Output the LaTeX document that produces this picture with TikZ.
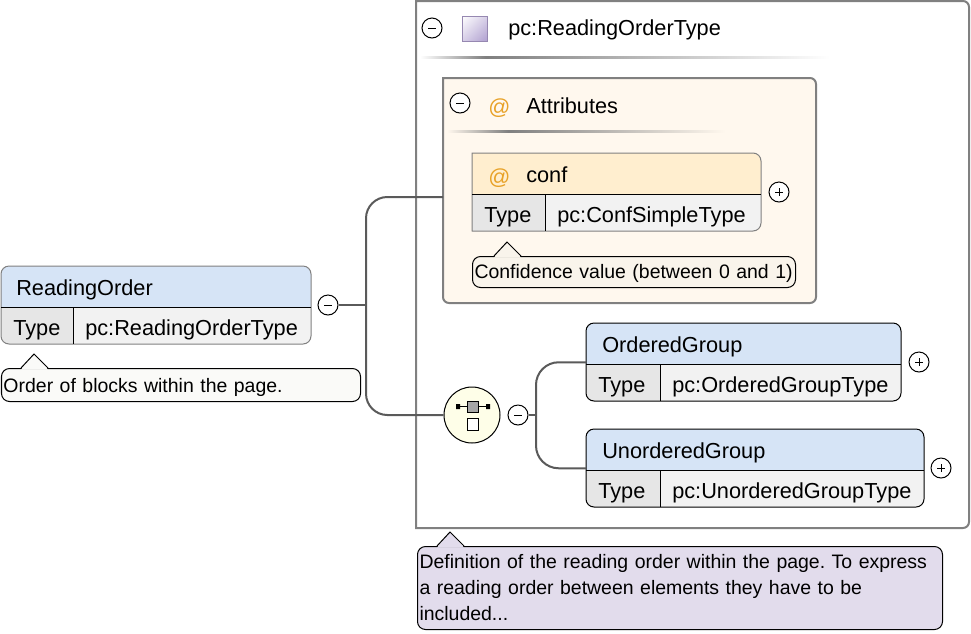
\documentclass[tikz,border=0pt]{standalone}
\usepackage{fontspec}
\setmainfont{Liberation Sans}
\usetikzlibrary{calc,shadings}
\frenchspacing
\definecolor{headblue}{HTML}{D6E4F6}
\definecolor{headorange}{HTML}{FFEECF}
\definecolor{attrback}{HTML}{FFF8EE}
\definecolor{typegray}{HTML}{E6E6E6}
\definecolor{valuegray}{HTML}{F2F2F2}
\definecolor{framegray}{HTML}{808080}
\definecolor{linkgray}{HTML}{5A5A5A}
\definecolor{notewhite}{HTML}{FAFAF8}
\definecolor{notecream}{HTML}{F9F4EB}
\definecolor{notepurple}{HTML}{E2DCEC}
\definecolor{seqyellow}{HTML}{FEFEE8}
\definecolor{ordericon}{HTML}{B0A0D0}
\definecolor{attricon}{HTML}{E8A228}
\pgfdeclarehorizontalshading{sepwhite}{100bp}{color(0bp)=(white); color(25bp)=(white); color(33bp)=(black!50); color(75bp)=(white); color(100bp)=(white)}
\pgfdeclarehorizontalshading{sepcream}{100bp}{color(0bp)=(attrback); color(25bp)=(attrback); color(36bp)=(black!50); color(75bp)=(attrback); color(100bp)=(attrback)}
\tikzset{
	px/.style={x=0.75pt,y=-0.75pt},
	bigtext/.style={inner sep=0pt,anchor=base west,font=\fontsize{16.3pt}{19pt}\selectfont},
	atsign/.style={bigtext,text=attricon},
	framebox/.style={draw=framegray,line width=1.5pt},
	link/.style={draw=linkgray,line width=1.5pt},
	toggle/.style={circle,draw=black,fill=white,line width=0.75pt,inner sep=0pt,minimum size=15pt},
	tminus/.style={toggle,path picture={\draw[line width=0.6pt] ($(path picture bounding box.center)+(-4,0)$) -- ($(path picture bounding box.center)+(4,0)$);}},
	tplus/.style={toggle,path picture={\draw[line width=0.6pt] ($(path picture bounding box.center)+(-4,0)$) -- ($(path picture bounding box.center)+(4,0)$) ($(path picture bounding box.center)+(0,-4)$) -- ($(path picture bounding box.center)+(0,4)$);}},
	notebox/.style={draw=black,line width=0.75pt,rounded corners=6pt,anchor=north west,inner xsep=1.5pt,inner ysep=0pt,align=left,font=\fontsize{14.6pt}{19.5pt}\selectfont},
}
\begin{document}
\begin{tikzpicture}[px]
	\useasboundingbox (0,0) rectangle (971,633);
	
	% outer type frame
	\draw[framebox,fill=white] (416,1) -- (416,528) -- (962,528) [rounded corners=4.5pt] -- (969,528) -- (969,1) [sharp corners] -- cycle;
	\node[bigtext] (typetitle) at (508,35) {pc:ReadingOrderType};
	\node[tminus] (typeminus) at (432,28) {};
	\shade[upper left=white,lower right=ordericon,upper right=ordericon!50!white,lower left=ordericon!50!white] (462,16) rectangle (487,41);
	\draw[ordericon!85!black,line width=0.75pt] (462,16) rectangle (487,41);
	\shade[shading=sepwhite] (420,56.5) rectangle (830,58.5);
	
	% attributes group
	\draw[framebox,fill=attrback] (443,78) -- (810,78) [rounded corners=4.5pt] -- (816,78) -- (816,303) -- (443,303) [sharp corners] -- cycle;
	\node[anchor=north west,minimum width=279.75pt,minimum height=168.75pt,inner sep=0pt] (attrs) at (443,78) {};
	\node[tminus] (attrminus) at (460,103) {};
	\node[atsign] (attrat) at (488,114) {@};
	\node[bigtext] (attrtitle) at (526,113) {Attributes};
	\shade[shading=sepcream] (447,130.5) rectangle (725,132.5);
	
	% element boxes
	\foreach \nm/\x/\y/\w/\col/\rl/\hd/\bd/\tx/\ttl/\typ in {
		ro/1/266/310/73/6pt/headblue/framegray/16/ReadingOrder/pc:ReadingOrderType,
		conf/472/153/289/545/0.01pt/headorange/framegray/526/conf/pc:ConfSimpleType,
		og/586/323/315/660/6pt/headblue/black/602/OrderedGroup/pc:OrderedGroupType,
		ug/586/429/338/660/6pt/headblue/black/602/UnorderedGroup/pc:UnorderedGroupType}{
		\begin{scope}
			\clip (\x+\w/2,\y) [rounded corners=\rl] -- (\x,\y) -- (\x,\y+78) [rounded corners=6pt] -- (\x+\w,\y+78) -- (\x+\w,\y) -- cycle;
			\fill[\hd] (\x,\y) rectangle (\x+\w,\y+41);
			\fill[typegray] (\x,\y+41) rectangle (\col,\y+78);
			\fill[valuegray] (\col,\y+41) rectangle (\x+\w,\y+78);
		\end{scope}
		\draw[draw=\bd,line width=0.75pt] (\x+\w/2,\y) [rounded corners=\rl] -- (\x,\y) -- (\x,\y+78) [rounded corners=6pt] -- (\x+\w,\y+78) -- (\x+\w,\y) -- cycle;
		\draw[black,line width=0.75pt] (\x,\y+41) -- (\x+\w,\y+41) (\col,\y+41) -- (\col,\y+78);
		\node[anchor=north west,minimum width=\w*0.75pt,minimum height=58.5pt,inner sep=0pt] (\nm) at (\x,\y) {};
		\node[bigtext] (\nm title) at (\tx,\y+29) {\ttl};
		\node[bigtext] (\nm type) at (\x+12,\y+69) {Type};
		\node[bigtext] (\nm value) at (\col+12,\y+69) {\typ};
	}
	\node[atsign] (confat) at (488,184) {@};
	
	% connectors
	\coordinate (spine) at (366,305);
	\coordinate (attrin) at (443,197);
	\coordinate (seqspine) at (536,415);
	\node[circle,draw=black,fill=seqyellow,line width=0.75pt,minimum size=42pt,inner sep=0pt] (seq) at (472,415) {};
	\node[tminus] (rominus) at (328,305) {};
	\node[tminus] (seqminus) at (518,415) {};
	\node[tplus] (confplus) at (779,192) {};
	\node[tplus] (ogplus) at (919,362) {};
	\node[tplus] (ugplus) at (941,468) {};
	\draw[link] (rominus) -- (spine);
	\draw[link,rounded corners=16pt] (attrin) -| (spine) |- (seq);
	\draw[link] (seqminus) -- (seqspine);
	\draw[link,rounded corners=17pt] (og.west) -| (seqspine) |- (ug.west);
	
	% sequence icon
	\draw[black,line width=0.75pt] (458,406.5) -- (488,406.5);
	\fill[black] (456,404) rectangle (460,409) (486,404) rectangle (490,409);
	\draw[black,fill=black!35,line width=0.75pt] (467,401) rectangle (478.5,412);
	\draw[black,fill=white,line width=0.75pt] (467,418.5) rectangle (478.5,430);
	
	% notes
	\foreach \nm/\x/\y/\w/\tht/\tdp/\colr/\ax/\txt in {
		ronote/1/368/359/18pt/6.75pt/notewhite/34/Order of blocks within the page.,
		confnote/472/256/323/16.5pt/6.75pt/notecream/507/Confidence value (between 0 and 1),
		typenote/417/546/525/16.5pt/45.75pt/notepurple/450/{Definition of the reading order within the page. To express\\a reading order between elements they have to be\\included...}}{
		\node[notebox,fill=\colr,text height=\tht,text depth=\tdp,text width={(\w*0.75pt-3pt)}] (\nm) at (\x,\y) {\txt};
		\fill[\colr] (\ax-13,\y+1.5) -- (\ax,\y-14) -- (\ax+14,\y+1.5) -- cycle;
		\draw[black,line width=0.75pt] (\ax-13,\y) -- (\ax,\y-14) -- (\ax+14,\y);
	}
\end{tikzpicture}
\end{document}
